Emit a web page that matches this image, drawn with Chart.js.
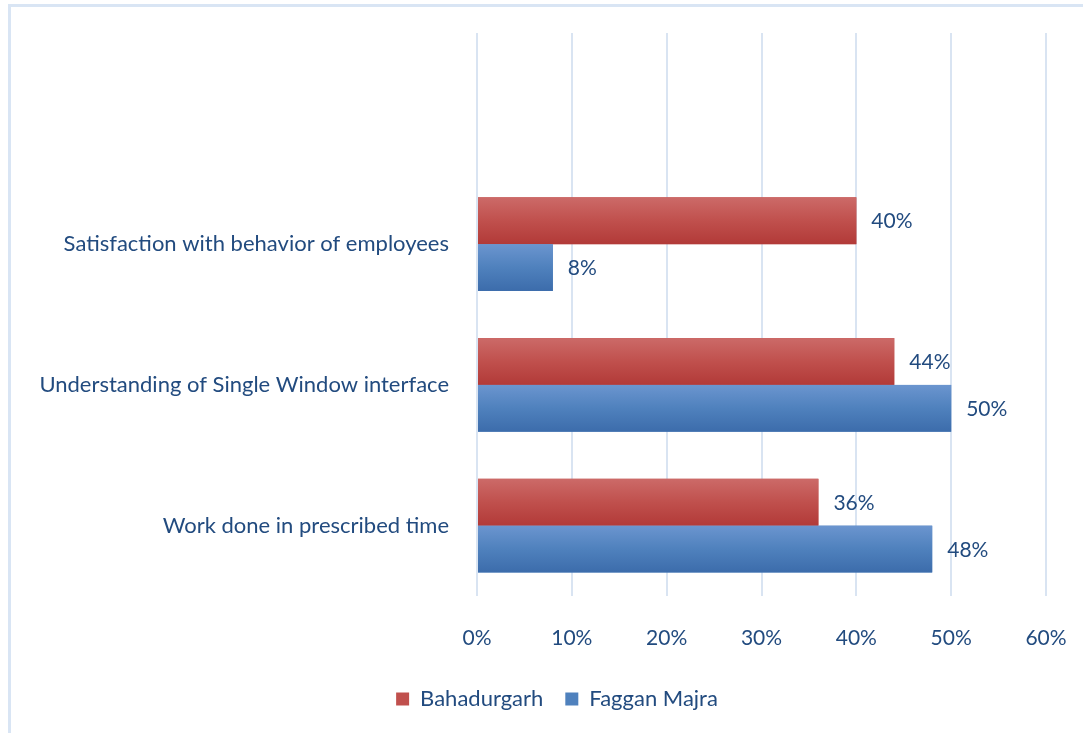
<!DOCTYPE html>
<html>
<head>
<meta charset="utf-8">
<script src="https://cdn.jsdelivr.net/npm/chart.js@4"></script>
<style>
    html, body { margin: 0; padding: 0; background: #ffffff; }
    #wrap { position: relative; width: 1083px; height: 733px; overflow: hidden; }
    #frame {
        position: absolute; left: 8px; top: 4px; width: 1100px; height: 760px;
        border-left: 3px solid #d9e5f4; border-top: 3px solid #d9e5f4;
        box-sizing: border-box; pointer-events: none;
    }
    canvas { position: absolute; left: 0; top: 0; }
</style>
</head>
<body>
<div id="wrap">
    <canvas id="chart" width="1083" height="733"></canvas>
    <div id="frame"></div>
</div>
<script>
// Categories (top row left empty, like the original Excel plot)
const categories = [
    '',
    'Satisfaction with behavior of employees',
    'Understanding of Single Window interface',
    'Work done in prescribed time'
];
const seriesNames = ['Bahadurgarh', 'Faggan Majra'];
const bahadurgarh = [null, 40, 44, 36];
const fagganMajra = [null, 8, 50, 48];
const xTicks = [0, 10, 20, 30, 40, 50, 60];

const FONT = "Lato, 'Open Sans', sans-serif";
const TEXT = '#224b7f';

// Vertical gradient on each bar, like the Office 2007 look
const gradientBars = {
    id: 'gradientBars',
    afterDatasetsDraw(chart) {
        const ctx = chart.ctx;
        const stops = [
            ['#cc6a68', '#c0504d', '#b23a38'],
            ['#6b95cf', '#4f81bd', '#3c6cab']
        ];
        chart.data.datasets.forEach((ds, di) => {
            const meta = chart.getDatasetMeta(di);
            meta.data.forEach((bar, i) => {
                if (ds.data[i] == null) return;
                const p = bar.getProps(['x', 'y', 'base', 'height'], true);
                const top = p.y - p.height / 2;
                const g = ctx.createLinearGradient(0, top, 0, top + p.height);
                g.addColorStop(0, stops[di][0]);
                g.addColorStop(0.5, stops[di][1]);
                g.addColorStop(1, stops[di][2]);
                ctx.save();
                ctx.fillStyle = g;
                ctx.fillRect(p.base, top, p.x - p.base, p.height);
                ctx.restore();
            });
        });
    }
};

// Value labels to the right of each bar
const valueLabels = {
    id: 'valueLabels',
    afterDatasetsDraw(chart) {
        const ctx = chart.ctx;
        ctx.save();
        ctx.font = '21px ' + FONT;
        ctx.fillStyle = TEXT;
        ctx.textAlign = 'left';
        ctx.textBaseline = 'middle';
        chart.data.datasets.forEach((ds, di) => {
            chart.getDatasetMeta(di).data.forEach((bar, i) => {
                if (ds.data[i] == null) return;
                const p = bar.getProps(['x', 'y'], true);
                ctx.fillText(ds.data[i] + '%', p.x + 15, p.y + 1);
            });
        });
        ctx.restore();
    }
};

// Legend sits a little right of the canvas centre in the original
const legendShift = {
    id: 'legendShift',
    afterLayout(chart) {
        chart.legend.left = 68;
    }
};

new Chart(document.getElementById('chart'), {
    type: 'bar',
    data: {
        labels: categories,
        datasets: [
            {
                label: seriesNames[0],
                data: bahadurgarh,
                backgroundColor: '#c0504d',
                categoryPercentage: 0.665,
                barPercentage: 1
            },
            {
                label: seriesNames[1],
                data: fagganMajra,
                backgroundColor: '#4f81bd',
                categoryPercentage: 0.665,
                barPercentage: 1
            }
        ]
    },
    options: {
        indexAxis: 'y',
        responsive: false,
        animation: false,
        layout: { padding: { left: 20, right: 37, top: 33, bottom: 13 } },
        plugins: {
            legend: {
                position: 'bottom',
                labels: {
                    color: TEXT,
                    font: { family: FONT, size: 22 },
                    boxWidth: 13,
                    boxHeight: 13,
                    padding: 22
                }
            },
            tooltip: { enabled: false }
        },
        scales: {
            x: {
                min: 0,
                max: 60,
                afterBuildTicks(axis) {
                    axis.ticks = xTicks.map(v => ({ value: v }));
                },
                afterFit(axis) {
                    axis.height = 70;
                    axis.paddingLeft = 0;
                    axis.paddingRight = 0;
                },
                grid: { color: '#d9e4f2', lineWidth: 2, drawTicks: false },
                border: { display: false },
                ticks: {
                    padding: 30,
                    color: TEXT,
                    font: { family: FONT, size: 21 },
                    callback: v => v + '%'
                }
            },
            y: {
                afterFit(axis) {
                    axis.width = 457;
                    axis.paddingTop = 0;
                    axis.paddingBottom = 0;
                },
                grid: { display: false, drawTicks: false },
                border: { display: false },
                ticks: {
                    padding: 28,
                    color: TEXT,
                    font: { family: FONT, size: 22 }
                }
            }
        }
    },
    plugins: [gradientBars, valueLabels, legendShift]
});
</script>
</body>
</html>
